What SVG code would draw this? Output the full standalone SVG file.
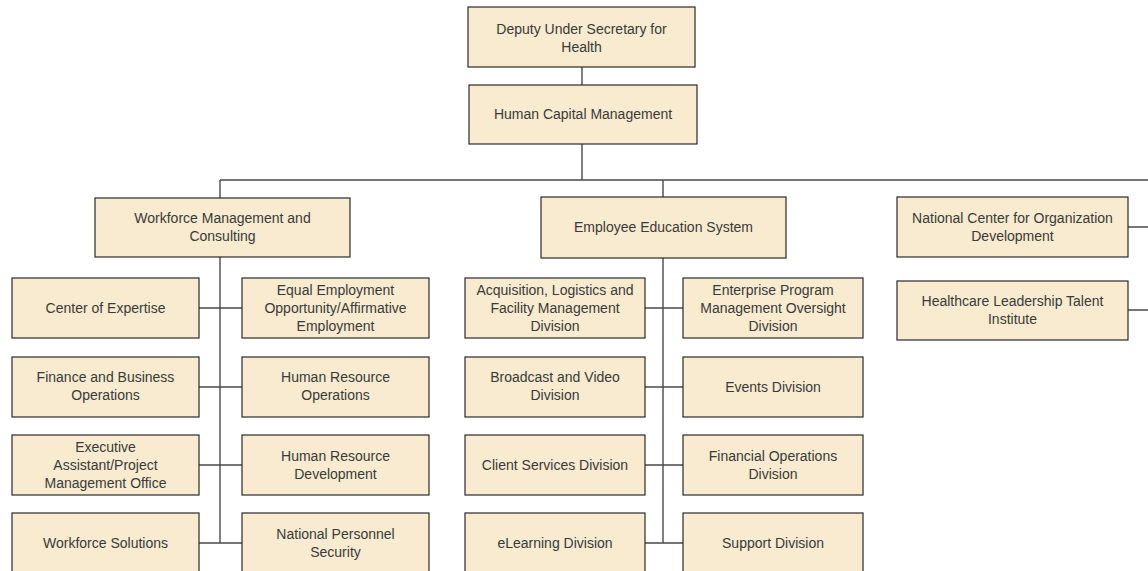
<svg xmlns="http://www.w3.org/2000/svg" width="1148" height="571" viewBox="0 0 1148 571">
<style>
.box{fill:#f8ebcf;stroke:#2a2a2a;stroke-width:1.2}
.t{font-family:"Liberation Sans",Arial,sans-serif;font-size:14px;fill:#3a3a3a;text-anchor:middle}
.c{stroke:#4a4a4a;stroke-width:1.4;fill:none}
</style>
<rect width="1148" height="571" fill="#ffffff"/>
<g id="connectors">
<path class="c" d="M582 67V85M582 144V180M220 180H1148M220 180V198M663 180V197"/>
<path class="c" d="M220 257V543M199 308H242M199 387H242M199 465H242M199 543H242"/>
<path class="c" d="M663 258V543M645 308H683M645 387H683M645 465H683M645 543H683"/>
<path class="c" d="M1128 227H1148M1128 310H1148"/>
</g>
<g id="deputy"><rect class="box" x="468" y="7" width="227" height="60"/><text class="t" x="581.5" y="34">Deputy Under Secretary for<tspan x="581.5" dy="18">Health</tspan></text></g>
<g id="hcm"><rect class="box" x="469" y="85" width="228" height="59"/><text class="t" x="583" y="119">Human Capital Management</text></g>
<g id="wmc"><rect class="box" x="95" y="198" width="255" height="59"/><text class="t" x="222.5" y="223">Workforce Management and<tspan x="222.5" dy="18">Consulting</tspan></text></g>
<g id="ees"><rect class="box" x="541" y="197" width="245" height="61"/><text class="t" x="663.5" y="232">Employee Education System</text></g>
<g id="ncod"><rect class="box" x="897" y="197" width="231" height="60"/><text class="t" x="1012.5" y="223">National Center for Organization<tspan x="1012.5" dy="18">Development</tspan></text></g>
<g id="hlti"><rect class="box" x="897" y="281" width="231" height="59"/><text class="t" x="1012.5" y="306">Healthcare Leadership Talent<tspan x="1012.5" dy="18">Institute</tspan></text></g>
<g id="coe"><rect class="box" x="12" y="278" width="187" height="60"/><text class="t" x="105.5" y="313">Center of Expertise</text></g>
<g id="eeo"><rect class="box" x="242" y="278" width="187" height="60"/><text class="t" x="335.5" y="295">Equal Employment<tspan x="335.5" dy="18">Opportunity/Affirmative</tspan><tspan x="335.5" dy="18">Employment</tspan></text></g>
<g id="fbo"><rect class="box" x="12" y="357" width="187" height="60"/><text class="t" x="105.5" y="382">Finance and Business<tspan x="105.5" dy="18">Operations</tspan></text></g>
<g id="hro"><rect class="box" x="242" y="357" width="187" height="60"/><text class="t" x="335.5" y="382">Human Resource<tspan x="335.5" dy="18">Operations</tspan></text></g>
<g id="eapmo"><rect class="box" x="12" y="435" width="187" height="60"/><text class="t" x="105.5" y="452">Executive<tspan x="105.5" dy="18">Assistant/Project</tspan><tspan x="105.5" dy="18">Management Office</tspan></text></g>
<g id="hrd"><rect class="box" x="242" y="435" width="187" height="60"/><text class="t" x="335.5" y="461">Human Resource<tspan x="335.5" dy="18">Development</tspan></text></g>
<g id="ws"><rect class="box" x="12" y="513" width="187" height="62"/><text class="t" x="105.5" y="548">Workforce Solutions</text></g>
<g id="nps"><rect class="box" x="242" y="513" width="187" height="62"/><text class="t" x="335.5" y="539">National Personnel<tspan x="335.5" dy="18">Security</tspan></text></g>
<g id="alfmd"><rect class="box" x="465" y="278" width="180" height="60"/><text class="t" x="555" y="295">Acquisition, Logistics and<tspan x="555" dy="18">Facility Management</tspan><tspan x="555" dy="18">Division</tspan></text></g>
<g id="epmod"><rect class="box" x="683" y="278" width="180" height="60"/><text class="t" x="773" y="295">Enterprise Program<tspan x="773" dy="18">Management Oversight</tspan><tspan x="773" dy="18">Division</tspan></text></g>
<g id="bvd"><rect class="box" x="465" y="357" width="180" height="60"/><text class="t" x="555" y="382">Broadcast and Video<tspan x="555" dy="18">Division</tspan></text></g>
<g id="evd"><rect class="box" x="683" y="357" width="180" height="60"/><text class="t" x="773" y="392">Events Division</text></g>
<g id="csd"><rect class="box" x="465" y="435" width="180" height="60"/><text class="t" x="555" y="470">Client Services Division</text></g>
<g id="fod"><rect class="box" x="683" y="435" width="180" height="60"/><text class="t" x="773" y="461">Financial Operations<tspan x="773" dy="18">Division</tspan></text></g>
<g id="eld"><rect class="box" x="465" y="513" width="180" height="62"/><text class="t" x="555" y="548">eLearning Division</text></g>
<g id="sd"><rect class="box" x="683" y="513" width="180" height="62"/><text class="t" x="773" y="548">Support Division</text></g>
</svg>
